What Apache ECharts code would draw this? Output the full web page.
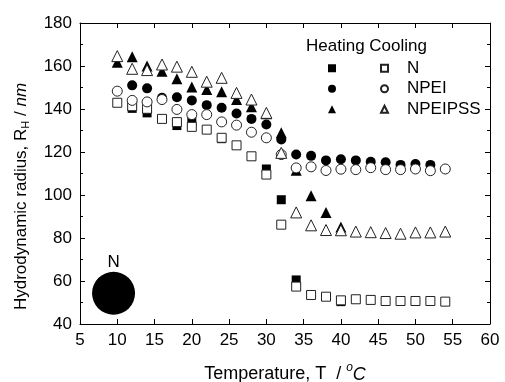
<!DOCTYPE html>
<html>
<head>
<meta charset="utf-8">
<script src="https://cdn.jsdelivr.net/npm/echarts@6/dist/echarts.min.js"></script>
<style>
  html, body { margin: 0; padding: 0; background: #fff; }
  #chart { width: 505px; height: 382px; }
</style>
</head>
<body>
<div id="chart"></div>
<script>
// temperature (degC) and hydrodynamic radius (nm)
const heatN = [[12, 140.3], [14, 138.2], [18, 132.3], [20, 134.3], [24, 126.2], [30, 112.1], [32, 97.8], [34, 60.5], [40, 50.4]]
const coolN = [[10, 142.9], [12, 141.3], [14, 140.1], [16, 135.4], [18, 133.9], [20, 131.7], [22, 130.4], [24, 126.6], [26, 123.1], [28, 118.0], [30, 109.5], [32, 86.2], [34, 57.4], [36, 53.5], [38, 52.7], [40, 51.0], [42, 51.5], [44, 51.2], [46, 50.7], [48, 50.7], [50, 50.7], [52, 50.7], [54, 50.4]]
const heatNPEI = [[12, 151.0], [14, 149.6], [16, 145.2], [18, 145.5], [20, 144.0], [22, 141.8], [24, 140.6], [26, 137.9], [28, 135.4], [30, 132.8], [32, 125.8], [34, 118.8], [36, 118.2], [38, 116.1], [40, 116.6], [42, 116.1], [44, 115.5], [46, 115.2], [48, 114.0], [50, 114.4], [52, 114.0]]
const coolNPEI = [[10, 148.3], [12, 144.0], [14, 143.3], [16, 144.4], [18, 139.8], [20, 137.4], [22, 137.4], [24, 134.0], [26, 132.5], [28, 129.2], [30, 126.6], [32, 118.8], [34, 112.6], [36, 113.1], [38, 111.4], [40, 112.0], [42, 111.8], [44, 112.7], [46, 111.8], [48, 111.8], [50, 112.1], [52, 111.3], [54, 112.1]]
const heatNPEIPSS = [[10, 161.8], [12, 164.3], [14, 160.0], [16, 157.6], [18, 154.1], [20, 150.2], [22, 149.1], [24, 148.0], [26, 144.4], [28, 141.0], [30, 137.8], [32, 128.9], [34, 111.5], [36, 99.7], [38, 91.9], [40, 85.1]]
const coolNPEIPSS = [[10, 164.6], [12, 158.7], [14, 158.1], [16, 160.7], [18, 159.7], [20, 157.3], [22, 152.7], [24, 154.5], [26, 147.5], [28, 144.4], [30, 138.2], [32, 119.6], [34, 91.9], [36, 85.9], [38, 83.7], [40, 83.6], [42, 83.0], [44, 82.7], [46, 82.3], [48, 82.0], [50, 82.6], [52, 82.6], [54, 83.0]]
const samples = ['N', 'NPEI', 'NPEIPSS']
const bigN = [[9.5, 54.3]]

const font = 'Liberation Sans, Arial, sans-serif'
const chart = echarts.init(document.getElementById('chart'))

const frameAxis = {
  type: 'value',
  axisLine: { show: true, onZero: false, lineStyle: { color: '#000', width: 1 } },
  axisTick: { show: true, inside: true, length: 5, lineStyle: { color: '#000' } },
  splitLine: { show: false },
  axisLabel: { color: '#000', fontSize: 17, fontFamily: font }
}

const filled = (name, symbol, size, data) => ({
  name: name + ' heating',
  type: 'scatter',
  symbol,
  symbolSize: size,
  itemStyle: { color: '#000', opacity: 1 },
  data
})
const open = (name, symbol, size, data) => ({
  name: name + ' cooling',
  type: 'scatter',
  symbol,
  symbolSize: size,
  itemStyle: { color: '#fff', borderColor: '#222', borderWidth: 1, opacity: 1 },
  data
})

chart.setOption({
  animation: false,
  backgroundColor: '#fff',
  title: {
    text: 'Heating Cooling',
    left: 301,
    top: 33,
    textStyle: { fontSize: 17, fontWeight: 'normal', color: '#000', fontFamily: font }
  },
  legend: [
    {
      data: samples.map(s => s + ' heating'),
      orient: 'vertical',
      left: 323,
      top: 53,
      itemWidth: 8,
      itemHeight: 8,
      itemGap: 0,
      formatter: () => ' ',
      textStyle: { fontSize: 17, lineHeight: 20.5, fontFamily: font }
    },
    {
      data: samples.map(s => s + ' cooling'),
      orient: 'vertical',
      left: 375,
      top: 53,
      itemWidth: 7,
      itemHeight: 7,
      itemGap: 0,
      formatter: name => name.replace(' cooling', ''),
      textStyle: { fontSize: 17, lineHeight: 20.5, color: '#000', fontFamily: font, padding: [0, 0, 0, 14] }
    }
  ],
  grid: { left: 80, right: 15, top: 23, bottom: 58, containLabel: false, outerBoundsMode: 'none' },
  xAxis: [
    {
      ...frameAxis,
      min: 5,
      max: 60,
      interval: 5,
      axisLabel: { ...frameAxis.axisLabel, margin: 8 },
      name: 'Temperature, T  / {sup|o}{it|C}',
      nameLocation: 'middle',
      nameGap: 38,
      nameTextStyle: {
        fontSize: 18,
        color: '#000',
        fontFamily: font,
        rich: {
          sup: { fontSize: 12, color: '#000', fontFamily: font, fontStyle: 'italic', verticalAlign: 'bottom', padding: [0, 0, 13, 0] },
          it: { fontSize: 18, color: '#000', fontFamily: font, fontStyle: 'italic' }
        }
      }
    },
    { ...frameAxis, position: 'top', min: 5, max: 60, interval: 5, axisLabel: { show: false } }
  ],
  yAxis: [
    {
      ...frameAxis,
      min: 40,
      max: 180,
      interval: 20,
      minorTick: { show: true, splitNumber: 2, length: 3, lineStyle: { color: '#000' } },
      axisLabel: { ...frameAxis.axisLabel, margin: 8 },
      name: 'Hydrodynamic radius, R{sub|H} / {it|nm}',
      nameLocation: 'middle',
      nameGap: 49,
      nameTextStyle: {
        fontSize: 17,
        color: '#000',
        fontFamily: font,
        padding: [0, 46, 0, 0],
        rich: {
          sub: { fontSize: 11, color: '#000', fontFamily: font, verticalAlign: 'top', padding: [8, 0, 0, 0] },
          it: { fontSize: 17, color: '#000', fontFamily: font, fontStyle: 'italic' }
        }
      }
    },
    {
      ...frameAxis,
      position: 'right',
      min: 40,
      max: 180,
      interval: 20,
      minorTick: { show: true, splitNumber: 2, length: 3, lineStyle: { color: '#000' } },
      axisLabel: { show: false }
    }
  ],
  series: [
    filled('N', 'rect', 9, heatN),
    filled('NPEI', 'circle', 10, heatNPEI),
    filled('NPEIPSS', 'triangle', 11, heatNPEIPSS),
    open('N', 'rect', 9, coolN),
    open('NPEI', 'circle', 10, coolNPEI),
    open('NPEIPSS', 'triangle', 11, coolNPEIPSS),
    {
      name: 'big N',
      type: 'scatter',
      symbol: 'circle',
      symbolSize: 43,
      itemStyle: { color: '#000', opacity: 1 },
      label: { show: true, position: 'top', distance: 1, formatter: 'N', fontSize: 17, color: '#000', fontFamily: font },
      data: bigN
    }
  ]
})
</script>
</body>
</html>
